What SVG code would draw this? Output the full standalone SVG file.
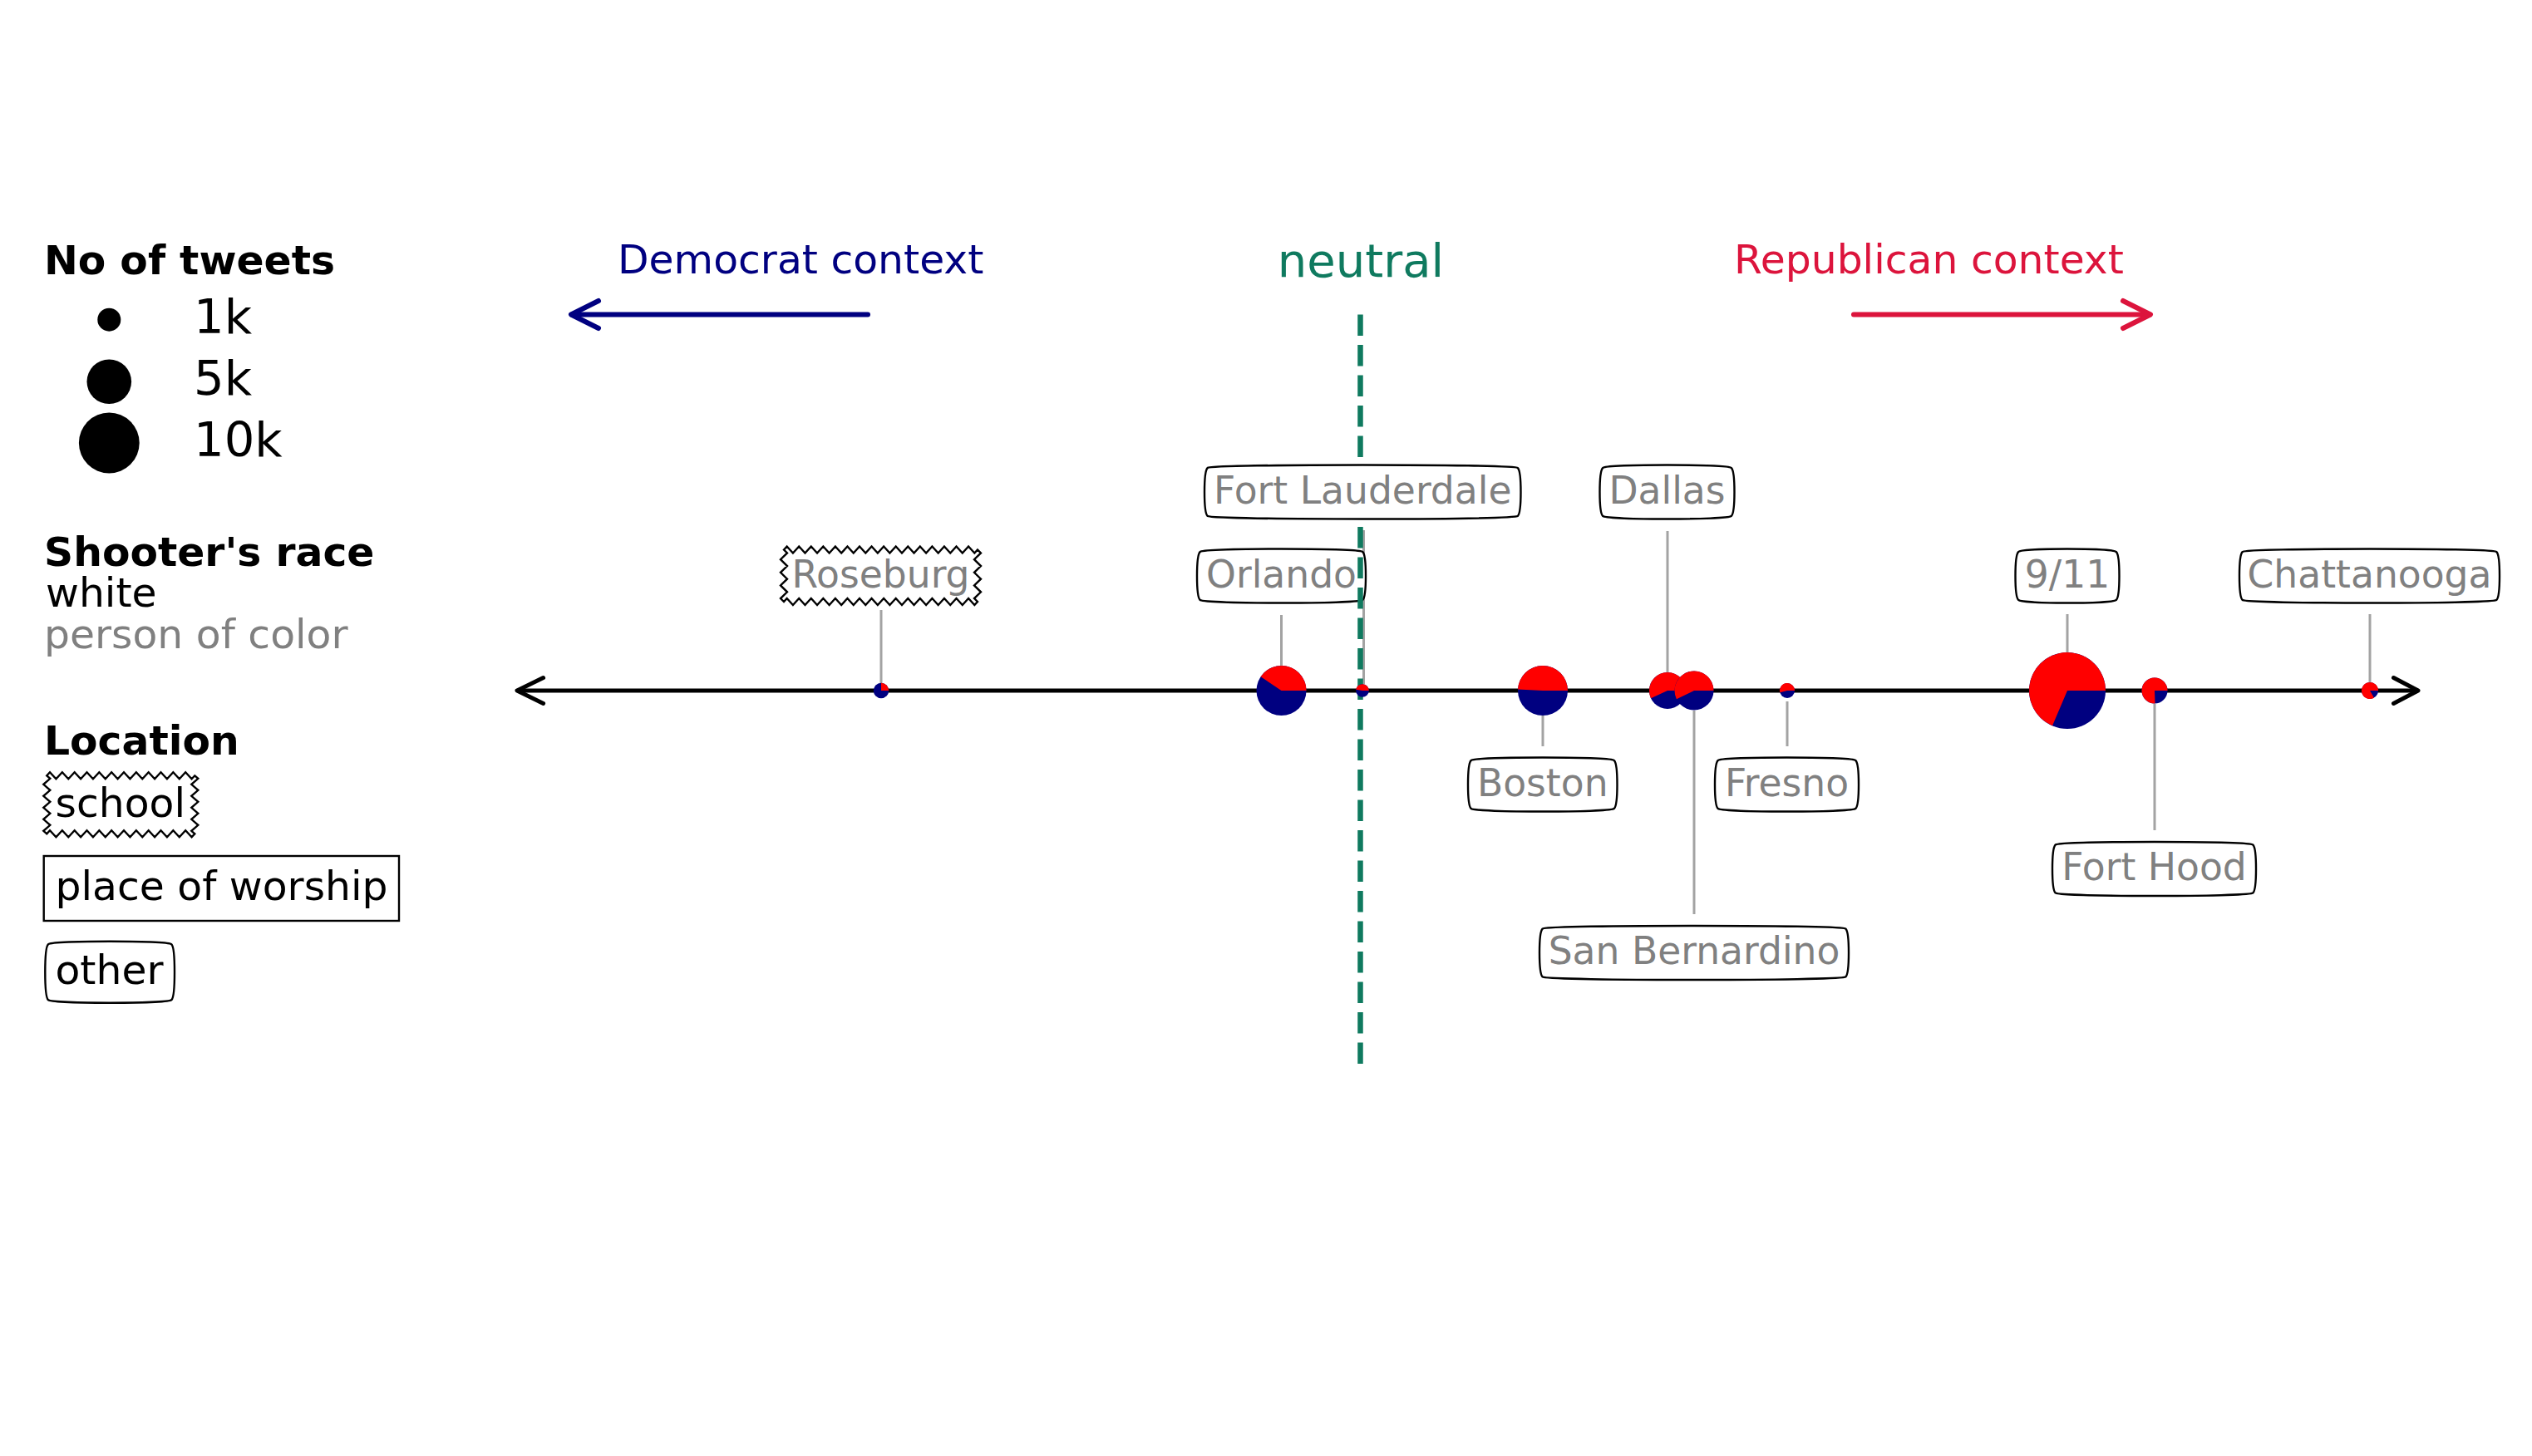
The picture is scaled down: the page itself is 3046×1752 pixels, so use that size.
<svg xmlns="http://www.w3.org/2000/svg" width="3046" height="1752" viewBox="0 0 3046 1752">
<style>
text { font-family: "DejaVu Sans", "Liberation Sans", sans-serif; }
.lbl { font-size: 45.6px; fill: #808080; text-anchor: middle; }
.box { fill: #ffffff; stroke: #000000; stroke-width: 2.4; }
.lead { stroke: #a3a3a3; stroke-width: 3; fill: none; }
.red { fill: #ff0000; }
.navy { fill: #000080; }
.ttl { font-size: 48.8px; font-weight: bold; fill: #000; }
.leg { font-size: 48.8px; fill: #000; }
.num { font-size: 57.6px; fill: #000; }
.party { font-size: 48.8px; }
.arr { fill: none; stroke-linecap: round; stroke-linejoin: round; }
</style>
<rect x="0" y="0" width="3046" height="1752" fill="#ffffff"/>

<g id="axes">
  <g class="arr" stroke="#000000" stroke-width="5">
    <line x1="624" y1="831" x2="2907" y2="831"/>
    <polyline points="653.6,815.5 622,831 653.6,846.5"/>
    <polyline points="2879.5,815.5 2909,831 2879.5,846.5"/>
  </g>
  <g class="arr" stroke="#000080" stroke-width="6">
    <line x1="1044" y1="378.5" x2="688" y2="378.5"/>
    <polyline points="720,362 687,378.5 720,395"/>
  </g>
  <g class="arr" stroke="#dc143c" stroke-width="6">
    <line x1="2230" y1="378.5" x2="2586" y2="378.5"/>
    <polyline points="2554,362 2587,378.5 2554,395"/>
  </g>
  <text class="party" x="743" y="329" fill="#000080">Democrat context</text>
  <text class="party" x="2086" y="329" fill="#dc143c">Republican context</text>
</g>

<g id="connectors">
  <line class="lead" x1="1060" y1="734" x2="1060" y2="822"/>
  <line class="lead" x1="1541.5" y1="740" x2="1541.5" y2="801"/>
  <line class="lead" x1="1640.5" y1="638" x2="1640.5" y2="823"/>
  <line class="lead" x1="2006" y1="639" x2="2006" y2="809"/>
  <line class="lead" x1="2487" y1="739" x2="2487" y2="785"/>
  <line class="lead" x1="2851" y1="739" x2="2851" y2="821"/>
  <line class="lead" x1="1856" y1="861" x2="1856" y2="898"/>
  <line class="lead" x1="2150" y1="844" x2="2150" y2="898"/>
  <line class="lead" x1="2038" y1="855" x2="2038" y2="1100"/>
  <line class="lead" x1="2592" y1="847" x2="2592" y2="999"/>
</g>

<g id="node-roseburg">
  <circle class="navy" cx="1060" cy="831" r="9.2"/>
  <path class="red" d="M1060,831 L1069.2,831 A9.2,9.2 0 0 0 1060,821.8 Z"/>
  <path class="box" d="M943,661.5 l3.64,-4 l7.281,8 l7.281,-8 l7.281,8 l7.281,-8 l7.281,8 l7.281,-8 l7.281,8 l7.281,-8 l7.281,8 l7.281,-8 l7.281,8 l7.281,-8 l7.281,8 l7.281,-8 l7.281,8 l7.281,-8 l7.281,8 l7.281,-8 l7.281,8 l7.281,-8 l7.281,8 l7.281,-8 l7.281,8 l7.281,-8 l7.281,8 l7.281,-8 l7.281,8 l7.281,-8 l7.281,8 l7.281,-8 l7.281,8 l3.64,-4 l4,3.906 l-8,7.8125 l8,7.8125 l-8,7.8125 l8,7.8125 l-8,7.8125 l8,7.8125 l-8,7.8125 l4,3.906 l-3.64,4 l-7.281,-8 l-7.281,8 l-7.281,-8 l-7.281,8 l-7.281,-8 l-7.281,8 l-7.281,-8 l-7.281,8 l-7.281,-8 l-7.281,8 l-7.281,-8 l-7.281,8 l-7.281,-8 l-7.281,8 l-7.281,-8 l-7.281,8 l-7.281,-8 l-7.281,8 l-7.281,-8 l-7.281,8 l-7.281,-8 l-7.281,8 l-7.281,-8 l-7.281,8 l-7.281,-8 l-7.281,8 l-7.281,-8 l-7.281,8 l-7.281,-8 l-7.281,8 l-7.281,-8 l-3.64,4 l-4,-3.906 l8,-7.8125 l-8,-7.8125 l8,-7.8125 l-8,-7.8125 l8,-7.8125 l-8,-7.8125 l8,-7.8125 l-4,-3.906 Z"/>
  <text class="lbl" x="1059.5" y="707">Roseburg</text>
</g>

<g id="node-orlando">
  <circle class="navy" cx="1541.5" cy="831" r="30"/>
  <path class="red" d="M1541.5,831 L1571.5,831 A30,30 0 0 0 1516.63,814.22 Z"/>
  <path class="box" d="M1443.6,664.1 C1448.4,659.3 1634.6,659.3 1639.4,664.1 C1644.2,668.9 1644.2,717.1 1639.4,721.9 C1634.6,726.7 1448.4,726.7 1443.6,721.9 C1438.8,717.1 1438.8,668.9 1443.6,664.1 Z"/>
  <text class="lbl" x="1541.5" y="706.5">Orlando</text>
</g>

<g id="neutral">
  <line x1="1636.5" y1="378.5" x2="1636.5" y2="1287" stroke="#0f7a5f" stroke-width="6.5" stroke-dasharray="25.5 11"/>
  <text x="1637" y="333" font-size="56" fill="#0f7a5f" text-anchor="middle">neutral</text>
</g>

<g id="node-fort-lauderdale">
  <circle class="navy" cx="1639" cy="831" r="7.8"/>
  <path class="red" d="M1639,831 L1646.8,831 A7.8,7.8 0 0 0 1631.32,829.65 Z"/>
  <path class="box" d="M1452.6,563.1 C1457.4,558.3 1821.1,558.3 1825.9,563.1 C1830.7,567.9 1830.7,616.1 1825.9,620.9 C1821.1,625.7 1457.4,625.7 1452.6,620.9 C1447.8,616.1 1447.8,567.9 1452.6,563.1 Z"/>
  <text class="lbl" x="1639.25" y="605.5">Fort Lauderdale</text>
</g>

<g id="node-boston">
  <circle class="navy" cx="1856" cy="831" r="30"/>
  <path class="red" d="M1856,831 L1886,831 A30,30 0 0 0 1826.04,829.43 Z"/>
  <path class="box" d="M1769.6,915.1 C1774.4,910.3 1937.1,910.3 1941.9,915.1 C1946.7,919.9 1946.7,968.1 1941.9,972.9 C1937.1,977.7 1774.4,977.7 1769.6,972.9 C1764.8,968.1 1764.8,919.9 1769.6,915.1 Z"/>
  <text class="lbl" x="1855.75" y="957.5">Boston</text>
</g>

<g id="node-dallas">
  <circle class="navy" cx="2006" cy="831" r="22"/>
  <path class="red" d="M2006,831 L2028,831 A22,22 0 1 0 1986.06,840.3 Z"/>
  <path class="box" d="M1928.1,563.1 C1932.9,558.3 2078.1,558.3 2082.9,563.1 C2087.7,567.9 2087.7,616.1 2082.9,620.9 C2078.1,625.7 1932.9,625.7 1928.1,620.9 C1923.3,616.1 1923.3,567.9 1928.1,563.1 Z"/>
  <text class="lbl" x="2005.5" y="605.5">Dallas</text>
</g>

<g id="node-san-bernardino">
  <circle class="navy" cx="2038" cy="831" r="23.5"/>
  <path class="red" d="M2038,831 L2061.5,831 A23.5,23.5 0 1 0 2016.88,841.3 Z"/>
  <path class="box" d="M1855.6,1117.6 C1860.4,1112.8 2215.6,1112.8 2220.4,1117.6 C2225.2,1122.4 2225.2,1170.6 2220.4,1175.4 C2215.6,1180.2 1860.4,1180.2 1855.6,1175.4 C1850.8,1170.6 1850.8,1122.4 1855.6,1117.6 Z"/>
  <text class="lbl" x="2038" y="1160">San Bernardino</text>
</g>

<g id="node-fresno">
  <circle class="navy" cx="2150" cy="831" r="9"/>
  <path class="red" d="M2150,831 L2159,831 A9,9 0 1 0 2141.31,833.33 Z"/>
  <path class="box" d="M2066.6,915.1 C2071.4,910.3 2227.6,910.3 2232.4,915.1 C2237.2,919.9 2237.2,968.1 2232.4,972.9 C2227.6,977.7 2071.4,977.7 2066.6,972.9 C2061.8,968.1 2061.8,919.9 2066.6,915.1 Z"/>
  <text class="lbl" x="2149.5" y="957.5">Fresno</text>
</g>

<g id="node-911">
  <circle class="navy" cx="2487" cy="831" r="46"/>
  <path class="red" d="M2487,831 L2533,831 A46,46 0 1 0 2469.03,873.34 Z"/>
  <path class="box" d="M2428.1,664.1 C2432.9,659.3 2541.1,659.3 2545.9,664.1 C2550.7,668.9 2550.7,717.1 2545.9,721.9 C2541.1,726.7 2432.9,726.7 2428.1,721.9 C2423.3,717.1 2423.3,668.9 2428.1,664.1 Z"/>
  <text class="lbl" x="2487" y="706.5">9/11</text>
</g>

<g id="node-fort-hood">
  <circle class="navy" cx="2592" cy="831" r="15.5"/>
  <path class="red" d="M2592,831 L2607.5,831 A15.5,15.5 0 1 0 2592.54,846.49 Z"/>
  <path class="box" d="M2472.6,1016.6 C2477.4,1011.8 2705.6,1011.8 2710.4,1016.6 C2715.2,1021.4 2715.2,1069.6 2710.4,1074.4 C2705.6,1079.2 2477.4,1079.2 2472.6,1074.4 C2467.8,1069.6 2467.8,1021.4 2472.6,1016.6 Z"/>
  <text class="lbl" x="2591.5" y="1059">Fort Hood</text>
</g>

<g id="node-chattanooga">
  <circle class="navy" cx="2851" cy="831" r="10"/>
  <path class="red" d="M2851,831 L2861,831 A10,10 0 1 0 2856,839.66 Z"/>
  <path class="box" d="M2697.6,664.1 C2702.4,659.3 2998.6,659.3 3003.4,664.1 C3008.2,668.9 3008.2,717.1 3003.4,721.9 C2998.6,726.7 2702.4,726.7 2697.6,721.9 C2692.8,717.1 2692.8,668.9 2697.6,664.1 Z"/>
  <text class="lbl" x="2850.5" y="706.5">Chattanooga</text>
</g>

<g id="legend">
  <text class="ttl" x="53" y="330">No of tweets</text>
  <circle cx="131.3" cy="384.7" r="14" fill="#000"/>
  <circle cx="131.3" cy="459.3" r="26.8" fill="#000"/>
  <circle cx="131.3" cy="533" r="36.4" fill="#000"/>
  <text class="num" x="233" y="400.5">1k</text>
  <text class="num" x="233" y="474.5">5k</text>
  <text class="num" x="233" y="548.5">10k</text>

  <text class="ttl" x="53" y="680.5">Shooter's race</text>
  <text class="leg" x="55" y="730">white</text>
  <text class="leg" x="53" y="780" style="fill:#808080">person of color</text>

  <text class="ttl" x="53" y="908">Location</text>
  <path class="box" d="M56.3,933.3 l3.708,-4 l7.417,8 l7.417,-8 l7.417,8 l7.417,-8 l7.417,8 l7.417,-8 l7.417,8 l7.417,-8 l7.417,8 l7.417,-8 l7.417,8 l7.417,-8 l7.417,8 l7.417,-8 l7.417,8 l7.417,-8 l7.417,8 l7.417,-8 l7.417,8 l7.417,-8 l7.417,8 l7.417,-8 l7.417,8 l3.708,-4 l4,3.5 l-8,7 l8,7 l-8,7 l8,7 l-8,7 l8,7 l-8,7 l8,7 l-8,7 l4,3.5 l-3.708,4 l-7.417,-8 l-7.417,8 l-7.417,-8 l-7.417,8 l-7.417,-8 l-7.417,8 l-7.417,-8 l-7.417,8 l-7.417,-8 l-7.417,8 l-7.417,-8 l-7.417,8 l-7.417,-8 l-7.417,8 l-7.417,-8 l-7.417,8 l-7.417,-8 l-7.417,8 l-7.417,-8 l-7.417,8 l-7.417,-8 l-7.417,8 l-7.417,-8 l-3.708,4 l-4,-3.5 l8,-7 l-8,-7 l8,-7 l-8,-7 l8,-7 l-8,-7 l8,-7 l-8,-7 l8,-7 l-4,-3.5 Z"/>
  <text class="leg" x="66.5" y="983">school</text>
  <rect class="box" x="52.7" y="1030" width="427.3" height="78"/>
  <text class="leg" x="66.5" y="1083">place of worship</text>
  <path class="box" d="M57.9,1136.3 C62.7,1131.5 201.6,1131.5 206.4,1136.3 C211.2,1141.1 211.2,1198.3 206.4,1203.1 C201.6,1207.9 62.7,1207.9 57.9,1203.1 C53.1,1198.3 53.1,1141.1 57.9,1136.3 Z"/>
  <text class="leg" x="66.5" y="1183.5">other</text>
</g>
</svg>
